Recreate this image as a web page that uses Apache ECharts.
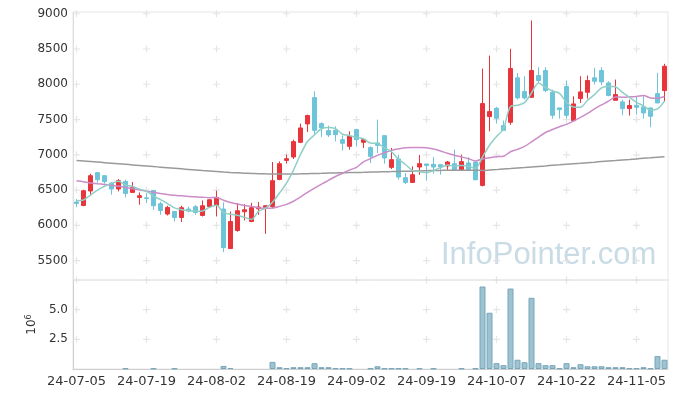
<!DOCTYPE html>
<html>
<head>
<meta charset="utf-8">
<script src="https://cdn.jsdelivr.net/npm/echarts@6/dist/echarts.min.js"></script>
<style>
html,body{margin:0;padding:0;background:#fff;}
#main{width:677px;height:398px;}
</style>
</head>
<body>
<div id="main"></div>
<script>
// trading days
const dates = [
  '24-07-05','24-07-08','24-07-09','24-07-10','24-07-11','24-07-12','24-07-15','24-07-16','24-07-17','24-07-18',
  '24-07-19','24-07-22','24-07-23','24-07-24','24-07-25','24-07-26','24-07-29','24-07-30','24-07-31','24-08-01',
  '24-08-02','24-08-05','24-08-06','24-08-07','24-08-08','24-08-09','24-08-12','24-08-13','24-08-14','24-08-16',
  '24-08-19','24-08-20','24-08-21','24-08-22','24-08-23','24-08-26','24-08-27','24-08-28','24-08-29','24-08-30',
  '24-09-02','24-09-03','24-09-04','24-09-05','24-09-06','24-09-09','24-09-10','24-09-11','24-09-12','24-09-13',
  '24-09-19','24-09-20','24-09-23','24-09-24','24-09-25','24-09-26','24-09-27','24-09-30','24-10-02','24-10-04',
  '24-10-07','24-10-08','24-10-10','24-10-11','24-10-14','24-10-15','24-10-16','24-10-17','24-10-18','24-10-21',
  '24-10-22','24-10-23','24-10-24','24-10-25','24-10-28','24-10-29','24-10-30','24-10-31','24-11-01','24-11-04',
  '24-11-05','24-11-06','24-11-07','24-11-08','24-11-11'
];
// [open, close, low, high]
const ohlc = [
  [6330,6310,6259,6373],[6282,6491,6271,6505],[6487,6704,6430,6732],[6747,6647,6604,6755],[6704,6619,6590,6710],
  [6600,6515,6434,6614],[6515,6633,6481,6657],[6623,6453,6396,6647],[6467,6538,6460,6614],[6396,6420,6292,6467],
  [6390,6380,6316,6458],[6495,6278,6221,6500],[6306,6211,6150,6335],[6160,6254,6140,6278],[6197,6112,6055,6205],
  [6112,6250,6047,6278],[6231,6203,6183,6264],[6264,6183,6150,6288],[6140,6278,6126,6353],[6268,6363,6250,6370],
  [6282,6396,6126,6491],[6231,5686,5620,6325],[5671,6055,5665,6197],[5927,6207,5909,6316],[6193,6221,6069,6302],
  [6055,6250,6045,6320],[6235,6260,6150,6330],[6254,6278,5880,6280],[6268,6633,6240,6898],[6651,6874,6640,6907],
  [6921,6945,6874,7002],[6969,7187,6941,7215],[7177,7381,7165,7442],[7438,7556,7324,7570],[7811,7347,7286,7901],
  [7442,7381,7253,7461],[7343,7282,7253,7414],[7347,7286,7191,7404],[7215,7163,7059,7272],[7120,7262,7073,7333],
  [7357,7215,7120,7370],[7177,7215,7097,7220],[7102,6978,6884,7120],[7168,7134,7026,7499],[7272,6955,6874,7275],
  [6822,6931,6799,7097],[6941,6685,6647,7002],[6676,6609,6586,6742],[6609,6718,6600,6836],[6827,6874,6718,6998],
  [6870,6850,6633,6875],[6865,6827,6732,6969],[6860,6827,6718,6862],[6842,6898,6779,6912],[6874,6789,6779,7073],
  [6789,6903,6780,7002],[6884,6789,6785,6964],[6898,6647,6640,6905],[6566,7726,6552,8223],[7542,7613,7333,8408],
  [7660,7518,7442,7680],[7414,7347,7340,7485],[7461,8223,7424,8503],[8091,7807,7783,8162],[7897,7807,7783,8114],
  [7816,8195,7806,8905],[8124,8053,8020,8242],[8195,7911,7887,8242],[7887,7560,7513,7925],[7665,7641,7513,7668],
  [7968,7560,7513,8053],[7485,7722,7480,7830],[7797,7892,7736,8114],[7887,8053,7797,8124],[8091,8043,7996,8233],
  [8195,8034,7986,8242],[8020,7840,7830,8043],[7773,7854,7773,8067],[7750,7655,7560,7783],[7655,7698,7556,7783],
  [7702,7674,7570,7830],[7679,7594,7513,7830],[7665,7546,7390,7668],[7868,7736,7730,8162],[7911,8256,7759,8290]
];
const ma5 = [
  6350,6360,6430,6500,6554,6595,6624,6573,6552,6512,6485,6414,6365,6309,6247,6221,6206,6201,6205,6255,
  6285,6181,6156,6142,6113,6084,6199,6243,6328,6459,6598,6783,7004,7189,7283,7370,7389,7370,7292,7275,
  7242,7228,7167,7161,7099,7043,6937,6863,6780,6763,6747,6776,6819,6855,6838,6849,6841,6805,6971,7136,
  7259,7370,7685,7702,7740,7876,8017,7955,7905,7872,7745,7679,7675,7774,7854,7949,7972,7965,7885,7816,
  7744,7695,7633,7650,7761
];
const ma20 = [
  6633,6618,6600,6590,6580,6568,6555,6538,6520,6502,6485,6468,6452,6438,6425,6418,6410,6405,6400,6392,
  6396,6356,6324,6302,6282,6269,6250,6241,6246,6269,6297,6342,6401,6466,6528,6584,6638,6693,6738,6783,
  6823,6900,6946,6992,7029,7063,7084,7101,7105,7105,7100,7082,7055,7022,6994,6970,6945,6913,6942,6959,
  6974,6981,7043,7077,7119,7183,7251,7316,7358,7397,7432,7477,7530,7588,7651,7707,7760,7820,7816,7821,
  7828,7841,7807,7803,7826
];
const maLong = [
  6921,6913,6905,6897,6889,6881,6873,6865,6857,6849,6841,6833,6825,6817,6809,6801,6793,6785,6777,6770,
  6763,6756,6750,6745,6740,6736,6733,6730,6728,6728,6728,6729,6730,6732,6735,6738,6741,6743,6745,6748,
  6750,6752,6755,6757,6760,6762,6765,6767,6770,6772,6775,6777,6779,6780,6780,6781,6781,6780,6779,6784,
  6790,6798,6805,6813,6820,6828,6836,6843,6851,6858,6866,6874,6881,6889,6896,6904,6912,6919,6927,6934,
  6942,6950,6957,6965,6972
];
// volume, 10^6
const volume = [
  0,0,0,0,0,0,0,0.06,0,0,
  0,0.05,0,0,0.05,0,0,0,0,0,
  0,0.26,0.08,0,0,0,0,0,0.6,0.15,
  0.06,0.15,0.15,0.15,0.49,0.15,0.15,0.06,0.05,0.05,
  0,0,0.05,0.23,0.05,0.05,0.05,0.05,0,0.05,
  0,0.05,0,0,0,0.05,0,0.05,6.95,4.74,
  0.49,0.32,6.78,0.78,0.57,6.0,0.49,0.32,0.32,0.05,
  0.49,0.15,0.4,0.23,0.23,0.23,0.15,0.15,0.15,0.06,
  0.06,0.15,0.06,1.09,0.78
];
const tickDates = ['24-07-05','24-07-19','24-08-02','24-08-19','24-09-02','24-09-19','24-10-07','24-10-22','24-11-05'];
const priceTicks = [5500,6000,6500,7000,7500,8000,8500,9000];
const volTicks = [2.5,5.0,7.5];

let myChart = echarts.init(document.getElementById('main'));

let crossMain = [];
let crossVol = [];
tickDates.forEach((d) => {
  priceTicks.forEach((v) => crossMain.push([d, v]));
  volTicks.forEach((v) => crossVol.push([d, v]));
});
// no bar at all for empty days
let volumeData = volume.map((v) => (v > 0 ? v : '-'));

const font = 'DejaVu Sans';
const crossSymbol = 'path://M0,2.5H6V3.5H0Z M2.5,0H3.5V6H2.5Z';

let option = {
  animation: false,
  grid: [
    { left: 73, width: 595, top: 12, height: 268, show: true, borderColor: '#e6e6e6', borderWidth: 1 },
    { left: 73, width: 595, top: 280, height: 89, show: true, borderColor: '#e6e6e6', borderWidth: 1 }
  ],
  xAxis: [
    {
      type: 'category', gridIndex: 0, data: dates, boundaryGap: true,
      axisLine: { show: false }, axisTick: { show: false }, axisLabel: { show: false }, splitLine: { show: false }
    },
    {
      type: 'category', gridIndex: 1, data: dates, boundaryGap: true,
      axisLine: { show: true, lineStyle: { color: '#cfcfcf' } },
      axisTick: { show: false },
      axisLabel: { interval: 9, color: '#333', fontFamily: font, fontSize: 13, margin: 6 },
      splitLine: { show: false }
    }
  ],
  yAxis: [
    {
      type: 'value', gridIndex: 0, min: 5225, max: 9025, scale: true,
      axisLine: { show: true, lineStyle: { color: '#dddddd' } },
      axisTick: { show: false },
      splitLine: { show: false },
      axisLabel: {
        customValues: priceTicks, color: '#333', fontFamily: font, fontSize: 12, margin: 5,
        formatter: (v) => String(v)
      }
    },
    {
      type: 'value', gridIndex: 1, min: 0, max: 7.5, interval: 2.5,
      axisLine: { show: true, lineStyle: { color: '#cfcfcf' } },
      axisTick: { show: false },
      splitLine: { show: false },
      axisLabel: {
        customValues: [2.5, 5.0], color: '#333', fontFamily: font, fontSize: 12, margin: 5,
        formatter: (v) => v.toFixed(1)
      },
      name: '10{s|6}', nameLocation: 'middle', nameRotate: 90, nameGap: 33,
      nameTextStyle: {
        color: '#333', fontFamily: font, fontSize: 12,
        rich: { s: { fontSize: 8, fontFamily: font, color: '#333', verticalAlign: 'top', padding: [0, 0, 6, 0] } }
      }
    }
  ],
  graphic: [
    {
      type: 'text', left: 441, top: 240, z: 0, silent: true,
      style: { text: 'InfoPointer.com', font: '31px "Liberation Sans"', fill: '#c9dbe5' }
    }
  ],
  series: [
    {
      type: 'scatter', xAxisIndex: 0, yAxisIndex: 0, data: crossMain, silent: true,
      symbol: crossSymbol, symbolSize: 7, itemStyle: { color: '#dedede' }, z: 1
    },
    {
      type: 'scatter', xAxisIndex: 1, yAxisIndex: 1, data: crossVol, silent: true,
      symbol: crossSymbol, symbolSize: 7, itemStyle: { color: '#dedede' }, z: 1
    },
    {
      name: 'price', type: 'candlestick', xAxisIndex: 0, yAxisIndex: 0, data: ohlc, barWidth: 5,
      itemStyle: { color: '#e8343b', color0: '#6ec4d8', borderColor: '#e8343b', borderColor0: '#6ec4d8', borderWidth: 1 },
      z: 3
    },
    {
      name: 'MA120', type: 'line', xAxisIndex: 0, yAxisIndex: 0, data: maLong, showSymbol: false, smooth: 0.3,
      lineStyle: { color: '#9a9a9a', width: 1.5 }, z: 4
    },
    {
      name: 'MA20', type: 'line', xAxisIndex: 0, yAxisIndex: 0, data: ma20, showSymbol: false, smooth: 0.3,
      lineStyle: { color: '#cc8cc8', width: 1.5 }, z: 4
    },
    {
      name: 'MA5', type: 'line', xAxisIndex: 0, yAxisIndex: 0, data: ma5, showSymbol: false, smooth: 0.3,
      lineStyle: { color: '#8fcfc6', width: 1.5 }, z: 4
    },
    {
      name: 'volume', type: 'bar', xAxisIndex: 1, yAxisIndex: 1, data: volumeData, barWidth: 6,
      itemStyle: { color: 'rgba(140,184,201,0.85)', borderColor: '#77a6ba', borderWidth: 1 }
    }
  ]
};
myChart.setOption(option);
</script>
</body>
</html>
